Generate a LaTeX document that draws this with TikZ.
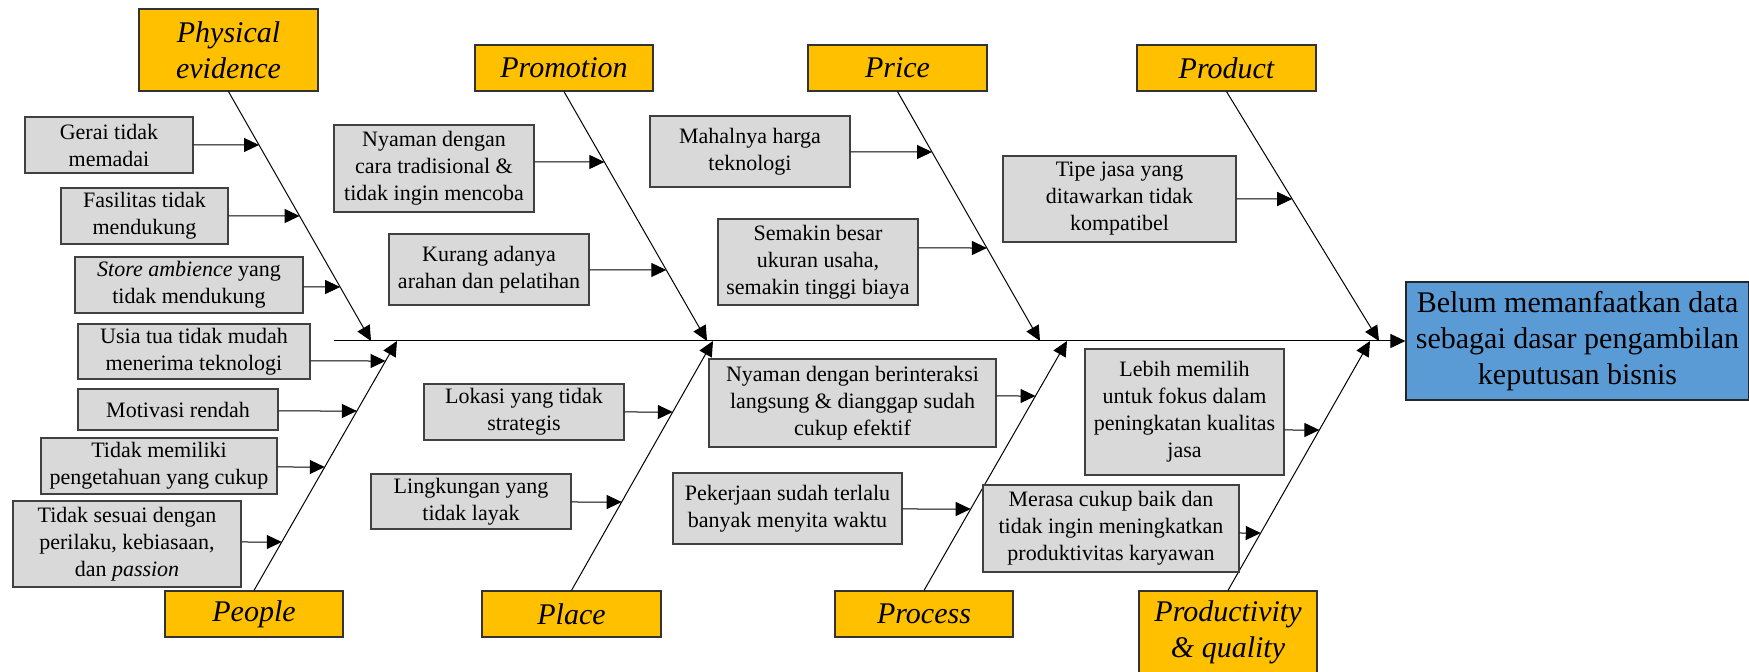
\documentclass[tikz,border=0pt]{standalone}
\usepackage{fontspec}
\setmainfont{Liberation Serif}
\usetikzlibrary{arrows.meta}
\tikzset{
  cat/.style={draw=black!80, line width=0.6pt, fill={rgb,255:red,255;green,192;blue,0}, inner sep=0pt, align=center, font=\fontsize{15}{18}\selectfont\itshape},
  causebox/.style={draw=black!75, line width=0.6pt, fill={rgb,255:red,217;green,217;blue,217}, inner sep=0pt, align=center, font=\fontsize{11}{13.5}\selectfont},
  effectbox/.style={draw=black!85, line width=0.6pt, fill={rgb,255:red,91;green,155;blue,213}, inner sep=0pt, align=center, font=\fontsize{15}{18}\selectfont},
  arr/.style={line width=0.5pt, -{Triangle[length=7.5pt,width=7pt]}}
}
% \boxat{name}{style}{x1}{y1}{x2}{y2}{text}
\newcommand\boxat[7]{%
  \node[#2, minimum width={(#5-#3)*0.5pt}, minimum height={(#6-#4)*0.5pt}] (#1) at ({(#3+#5)/2},{(#4+#6)/2}) {#7};
}
\newcommand\causearrow[4]{%
  \path (#1.east |- 0,#2) coordinate (#1s);
  \path (#1s) ++(100,0) coordinate (#1f);
  \draw[arr] (#1s) -- (intersection of #1s--#1f and #3--#4);
}
\begin{document}
\begin{tikzpicture}[x=0.5pt,y=-0.5pt]
\useasboundingbox (0,0) rectangle (1749,672);
% effect
\boxat{E}{effectbox}{1406}{282}{1749}{400}{Belum memanfaatkan data\\sebagai dasar pengambilan\\keputusan bisnis}
% categories
\boxat{PE}{cat}{139}{9}{318}{91}{Physical\\evidence}
\boxat{PR}{cat}{475}{45}{653}{91}{Promotion}
\boxat{PC}{cat}{808}{45}{987}{91}{Price}
\boxat{PD}{cat}{1137}{45}{1316}{91}{Product}
\boxat{PP}{cat}{165}{591}{343}{637}{People}
\boxat{PL}{cat}{482}{591}{661}{637}{Place}
\boxat{PS}{cat}{835}{591}{1013}{637}{Process}
\boxat{PQ}{cat}{1139}{591}{1317}{673}{Productivity\\\& quality}
% spine
\coordinate (spineL) at (334,341);
\draw[arr] (spineL) -- (E.west);
% tips on spine
\coordinate (PEt) at (371,341);
\coordinate (PRt) at (707,341);
\coordinate (PCt) at (1040,341);
\coordinate (PDt) at (1379,341);
\coordinate (PPt) at (397,341);
\coordinate (PLt) at (713,341);
\coordinate (PSt) at (1067,341);
\coordinate (PQt) at (1370,341);
\foreach \c in {PE,PR,PC,PD}{\draw[arr] (\c.south) -- (\c t);}
\foreach \c in {PP,PL,PS,PQ}{\draw[arr] (\c.north) -- (\c t);}
% causes
\boxat{c1}{causebox}{25}{117}{193}{173}{Gerai tidak\\memadai}
\boxat{c2}{causebox}{61}{188}{228}{244}{Fasilitas tidak\\mendukung}
\boxat{c3}{causebox}{75}{257}{303}{313}{\textit{Store ambience} yang\\tidak mendukung}
\boxat{c4}{causebox}{78}{324}{310}{379}{Usia tua tidak mudah\\menerima teknologi}
\boxat{c5}{causebox}{78}{389}{278}{430}{Motivasi rendah}
\boxat{c6}{causebox}{41}{438}{277}{494}{Tidak memiliki\\pengetahuan yang cukup}
\boxat{c7}{causebox}{13}{501}{241}{587}{Tidak sesuai dengan\\perilaku, kebiasaan,\\dan \textit{passion}}
\boxat{c8}{causebox}{334}{125}{534}{212}{Nyaman dengan\\cara tradisional \&\\tidak ingin mencoba}
\boxat{c9}{causebox}{389}{234}{589}{305}{Kurang adanya\\arahan dan pelatihan}
\boxat{c10}{causebox}{424}{384}{624}{440}{Lokasi yang tidak\\strategis}
\boxat{c11}{causebox}{371}{474}{571}{529}{Lingkungan yang\\tidak layak}
\boxat{c12}{causebox}{650}{116}{850}{187}{Mahalnya harga\\teknologi}
\boxat{c13}{causebox}{718}{219}{918}{305}{Semakin besar\\ukuran usaha,\\semakin tinggi biaya}
\boxat{c14}{causebox}{709}{359}{996}{447}{Nyaman dengan berinteraksi\\langsung \& dianggap sudah\\cukup efektif}
\boxat{c15}{causebox}{673}{473}{902}{544}{Pekerjaan sudah terlalu\\banyak menyita waktu}
\boxat{c16}{causebox}{1003}{156}{1236}{242}{Tipe jasa yang\\ditawarkan tidak\\kompatibel}
\boxat{c17}{causebox}{1085}{349}{1284}{475}{Lebih memilih\\untuk fokus dalam\\peningkatan kualitas\\jasa}
\boxat{c18}{causebox}{983}{485}{1239}{572}{Merasa cukup baik dan\\tidak ingin meningkatkan\\produktivitas karyawan}
% cause arrows
\causearrow{c1}{145}{PE.south}{PEt}
\causearrow{c2}{216}{PE.south}{PEt}
\causearrow{c3}{287}{PE.south}{PEt}
\causearrow{c4}{361}{PP.north}{PPt}
\causearrow{c5}{411}{PP.north}{PPt}
\causearrow{c6}{467}{PP.north}{PPt}
\causearrow{c7}{542}{PP.north}{PPt}
\causearrow{c8}{162}{PR.south}{PRt}
\causearrow{c9}{270}{PR.south}{PRt}
\causearrow{c10}{412}{PL.north}{PLt}
\causearrow{c11}{502}{PL.north}{PLt}
\causearrow{c12}{152}{PC.south}{PCt}
\causearrow{c13}{248}{PC.south}{PCt}
\causearrow{c14}{396}{PS.north}{PSt}
\causearrow{c15}{509}{PS.north}{PSt}
\causearrow{c16}{199}{PD.south}{PDt}
\causearrow{c17}{430}{PQ.north}{PQt}
\causearrow{c18}{533}{PQ.north}{PQt}
\end{tikzpicture}
\end{document}
